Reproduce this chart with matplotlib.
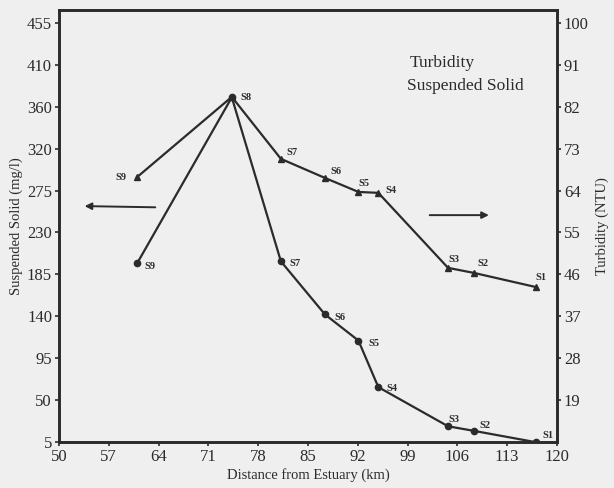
import matplotlib.pyplot as plt

plt.rcParams['font.family'] = ['Liberation Serif', 'DejaVu Serif']

# stations and distance from estuary (km)
stations = ["S9", "S8", "S7", "S6", "S5", "S4", "S3", "S2", "S1"]
distance = [61, 74.3, 81.2, 87.4, 92.1, 94.9, 104.7, 108.4, 117.0]

# suspended solid (mg/l), left axis
solid = [197, 375, 199, 142, 114, 64, 22, 17, 5]
# turbidity (NTU), right axis
turbidity = [66.9, 84.1, 70.8, 66.7, 63.7, 63.5, 47.4, 46.3, 43.3]

left_ticks = [5, 50, 95, 140, 185, 230, 275, 320, 365, 410, 455]
left_labels = ["5", "50", "95", "140", "185", "230", "275", "320", "360", "410", "455"]
right_ticks = [19, 28, 37, 46, 55, 64, 73, 82, 91, 100]
x_ticks = [50, 57, 64, 71, 78, 85, 92, 99, 106, 113, 120]

ink = "#2b2b2b"
paper = "#efefef"

fig = plt.figure(figsize=(6.14, 4.88), dpi=100, facecolor=paper)
ax = fig.add_axes([0.096, 0.094, 0.811, 0.886], facecolor=paper)
ax2 = ax.twinx()

ax.plot(distance, solid, color=ink, lw=1.6, marker="o", ms=4.5)
ax2.plot(distance, turbidity, color=ink, lw=1.6, marker="^", ms=4.5)

ax.set_xlim(50, 120)
ax.set_ylim(5, 469)
ax2.set_ylim(10, 102.8)

ax.set_xticks(x_ticks)
ax.set_yticks(left_ticks)
ax.set_yticklabels(left_labels)
ax2.set_yticks(right_ticks)

for a in (ax, ax2):
    for s in a.spines.values():
        s.set_linewidth(1.9)
        s.set_color(ink)
    a.tick_params(colors=ink, labelsize=12, length=3, width=1.2, direction="out", pad=2)

ax.set_xlabel("Distance from Estuary (km)", fontsize=10.5, color=ink, labelpad=2)
ax.set_ylabel("Suspended Solid (mg/l)", fontsize=10.5, color=ink, labelpad=3)
ax2.set_ylabel("Turbidity (NTU)", fontsize=10.5, color=ink, labelpad=5)

# station labels for suspended solid (circles)
solid_off = [(5, -4), (5, 0), (6, -3), (7, -4), (7, -4), (6, -3), (0, 3), (4, 2), (5, 3)]
for name, x, y, off in zip(stations, distance, solid, solid_off):
    if name == "S8":
        continue
    ax.annotate(name, (x, y), xytext=off, textcoords="offset points",
                fontsize=7.5, fontweight="bold", color=ink)

# station labels for turbidity (triangles)
turb_off = [(-16, -2), (6, -2), (4, 3), (4, 3), (0, 4), (5, 0), (0, 4), (2, 5), (0, 5)]
for name, x, y, off in zip(stations, distance, turbidity, turb_off):
    ax2.annotate(name, (x, y), xytext=off, textcoords="offset points",
                 fontsize=7.5, fontweight="bold", color=ink)

# arrows pointing to each axis
ax.annotate("", xy=(0.046, 0.546), xytext=(0.199, 0.543), xycoords="axes fraction",
            arrowprops=dict(arrowstyle="-|>", color=ink, lw=1.4, mutation_scale=10))
ax.annotate("", xy=(0.869, 0.525), xytext=(0.739, 0.525), xycoords="axes fraction",
            arrowprops=dict(arrowstyle="-|>", color=ink, lw=1.4, mutation_scale=10))

ax.text(0.769, 0.877, "Turbidity", transform=ax.transAxes, ha="center", va="center",
        fontsize=12.5, color=ink)
ax.text(0.817, 0.824, "Suspended Solid", transform=ax.transAxes, ha="center", va="center",
        fontsize=12.5, color=ink)

fig.savefig("out.png", dpi=100, facecolor=paper)
